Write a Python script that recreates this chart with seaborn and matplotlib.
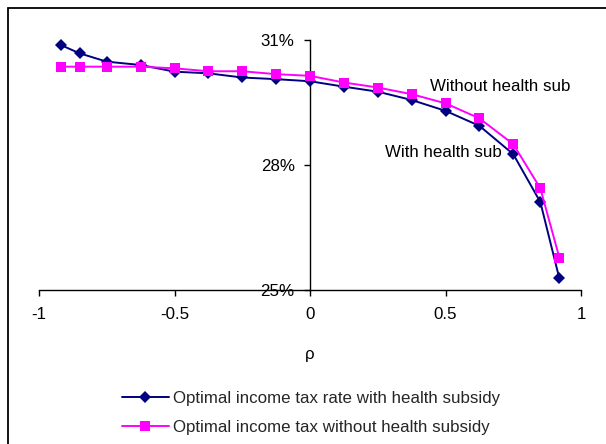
import matplotlib
matplotlib.use("Agg")
import matplotlib.pyplot as plt
from matplotlib.patches import Rectangle
from matplotlib.ticker import FuncFormatter
import seaborn as sns
import pandas as pd

# Correlation coefficient rho
rho = [-0.92, -0.85, -0.75, -0.625, -0.5, -0.375, -0.25, -0.125, 0.0,
       0.125, 0.25, 0.375, 0.5, 0.625, 0.75, 0.85, 0.92]

# Optimal income tax rate (%) with and without a health subsidy
tax_with_subsidy = [30.88, 30.68, 30.48, 30.40, 30.24, 30.20, 30.10, 30.06, 30.01,
                    29.88, 29.76, 29.56, 29.30, 28.94, 28.26, 27.11, 25.28]
tax_without_subsidy = [30.36, 30.36, 30.36, 30.36, 30.32, 30.25, 30.25, 30.18, 30.14,
                       29.98, 29.86, 29.70, 29.48, 29.12, 28.50, 27.44, 25.78]

label_with = "Optimal income tax rate with health subsidy"
label_without = "Optimal income tax without health subsidy"
y_ticks = [25, 28, 31]
x_ticks = [-1, -0.5, 0, 0.5, 1]

df = pd.DataFrame({"rho": rho, "with": tax_with_subsidy, "without": tax_without_subsidy})

sns.set_theme(style="white")
plt.rcParams["font.family"] = ["Liberation Sans", "DejaVu Sans"]

W, H = 606, 444
fig = plt.figure(figsize=(W / 100, H / 100), dpi=100)
ax = fig.add_axes([39 / W, 1 - 290 / H, 542 / W, 250 / H])

sns.lineplot(data=df, x="rho", y="with", ax=ax, color="#000080", marker="D",
             markersize=6.5, markeredgewidth=0, linewidth=1.4, label=label_with,
             clip_on=False, zorder=3)
sns.lineplot(data=df, x="rho", y="without", ax=ax, color="#FF00FF", marker="s",
             markersize=7, markeredgewidth=0, linewidth=1.4, label=label_without,
             clip_on=False, zorder=4)

ax.set_xlim(-1, 1)
ax.set_ylim(25, 31)
ax.set_xticks(x_ticks)
ax.set_yticks(y_ticks)
ax.set_xticklabels(["-1", "-0.5", "0", "0.5", "1"])
ax.yaxis.set_major_formatter(FuncFormatter(lambda v, p: f"{v:.0f}%"))

# Value axis crosses at rho = 0
ax.spines["left"].set_position(("data", 0))
ax.spines["top"].set_visible(False)
ax.spines["right"].set_visible(False)
for s in ("left", "bottom"):
    ax.spines[s].set_color("black")
    ax.spines[s].set_linewidth(1.0)
    ax.spines[s].set_zorder(2)

ax.tick_params(axis="both", which="major", direction="out", length=4, width=1,
               color="black", labelsize=12.2, labelcolor="black")
ax.tick_params(axis="y", left=True, pad=7)
ax.tick_params(axis="x", bottom=True, pad=8)
ax.grid(False)
ax.set_facecolor("none")

ax.set_ylabel("")
ax.set_xlabel("ρ", fontsize=12.2, color="black")
ax.xaxis.set_label_coords(0.5, -0.226)

ax.text(0.443, 29.88, "Without health sub", fontsize=12.2, color="black",
        ha="left", va="center")
ax.text(0.277, 28.30, "With health sub", fontsize=12.2, color="black",
        ha="left", va="center")

handles, labels = ax.get_legend_handles_labels()
ax.get_legend().remove()
fig.legend(handles, labels, loc="upper left", bbox_to_anchor=(122 / W, 1 - 391 / H),
           frameon=False, fontsize=12.2, handlelength=2.75, handletextpad=0.25,
           labelspacing=0.85, borderpad=0, borderaxespad=0)

# Chart area frame
fig.patches.append(Rectangle((7.5 / W, -0.1), 1.2, (H - 8) / H + 0.1,
                             transform=fig.transFigure, fill=False,
                             edgecolor="black", linewidth=1.3))

fig.savefig("out.png", dpi=100)
